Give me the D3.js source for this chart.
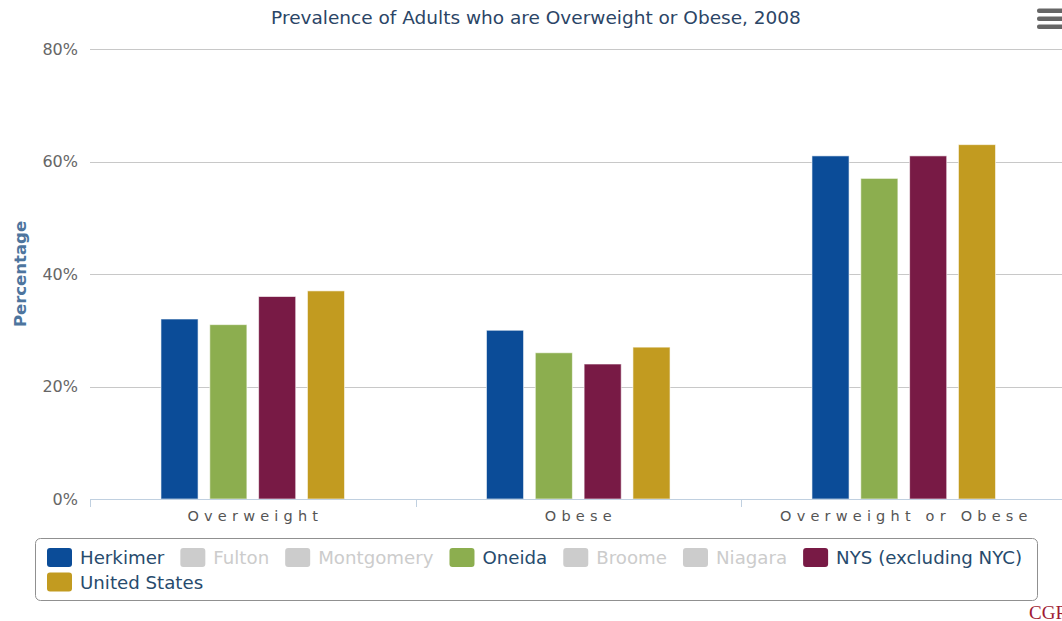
<!DOCTYPE html>
<html>
<head>
<meta charset="utf-8">
<script src="https://cdn.jsdelivr.net/npm/d3@7"></script>
<style>
  html, body { margin: 0; padding: 0; background: #fff; overflow: hidden; }
  svg { display: block; font-family: "DejaVu Sans", "Noto Sans", sans-serif; }
</style>
</head>
<body>
<svg id="chart" width="1062" height="621"></svg>
<script>
// Prevalence of adults who are overweight or obese, 2008 (percent)
const categories = ["Overweight", "Obese", "Overweight or Obese"];
const seriesNames = ["Herkimer", "Fulton", "Montgomery", "Oneida", "Broome", "Niagara", "NYS (excluding NYC)", "United States"];
const seriesVisible = [true, false, false, true, false, false, true, true];
const seriesColors = ["#0b4c98", "#cccccc", "#cccccc", "#8cae4f", "#cccccc", "#cccccc", "#781a45", "#c29b20"];
const herkimer = [32, 30, 61];
const oneida = [31, 26, 57];
const nys = [36, 24, 61];
const unitedStates = [37, 27, 63];
const yTicks = [0, 20, 40, 60, 80];

const valuesBySeries = {
  "Herkimer": herkimer,
  "Oneida": oneida,
  "NYS (excluding NYC)": nys,
  "United States": unitedStates
};
const shown = seriesNames.filter((s, i) => seriesVisible[i]);

const svg = d3.select("#chart");
const W = 1062;
const plot = { left: 90, right: 1066.5, top: 49, bottom: 499 };

const y = d3.scaleLinear().domain([0, 80]).range([plot.bottom, plot.top]);
const x0 = d3.scaleBand().domain(categories).range([plot.left, plot.right]).padding(0);
const groupPad = 0.2;
const x1 = d3.scaleBand().domain(shown)
  .range([0, x0.bandwidth() * (1 - 2 * groupPad)])
  .paddingInner(0.24).paddingOuter(0.12);

// Title
svg.append("text")
  .attr("x", 536).attr("y", 24)
  .attr("text-anchor", "middle")
  .attr("fill", "#2b4566")
  .style("font-size", "18.5px")
  .text("Prevalence of Adults who are Overweight or Obese, 2008");

// Export menu glyph
svg.append("g").selectAll("rect").data([0, 1, 2]).join("rect")
  .attr("x", 1037).attr("y", d => 8.5 + d * 8).attr("width", 30).attr("height", 4.5)
  .attr("rx", 2).attr("fill", "#666");

// Gridlines
svg.append("g").selectAll("line").data(yTicks.filter(t => t > 0)).join("line")
  .attr("x1", plot.left).attr("x2", W)
  .attr("y1", d => Math.round(y(d)) + 0.5).attr("y2", d => Math.round(y(d)) + 0.5)
  .attr("stroke", "#c8c8c8").attr("stroke-width", 1);

// Y axis labels
const yAxis = d3.axisLeft(y).tickValues(yTicks).tickSize(0).tickPadding(12)
  .tickFormat(d => d + "%");
const gy = svg.append("g").attr("transform", `translate(${plot.left},0)`).call(yAxis);
gy.select(".domain").remove();
gy.selectAll("text").attr("fill", "#666").style("font-size", "16px")
  .style("font-family", "DejaVu Sans, sans-serif");

// Y axis title
svg.append("text")
  .attr("transform", `translate(26,${(plot.top + plot.bottom) / 2}) rotate(-90)`)
  .attr("text-anchor", "middle")
  .attr("fill", "#4d759e")
  .style("font-size", "16.5px").style("font-weight", "bold")
  .text("Percentage");

// Bars
const groups = svg.append("g").selectAll("g").data(categories).join("g")
  .attr("transform", d => `translate(${x0(d) + x0.bandwidth() * groupPad},0)`);
groups.selectAll("rect")
  .data((c, ci) => shown.map(s => ({ s, v: valuesBySeries[s][ci] })))
  .join("rect")
  .attr("x", d => x1(d.s))
  .attr("width", x1.bandwidth())
  .attr("y", d => y(d.v))
  .attr("height", d => y(0) - y(d.v))
  .attr("fill", d => seriesColors[seriesNames.indexOf(d.s)])
  .attr("stroke", "#ffffff").attr("stroke-opacity", 0.6).attr("stroke-width", 1);

// X axis
const xAxis = d3.axisBottom(x0).tickSize(0).tickPadding(12);
const gx = svg.append("g").attr("transform", `translate(0,${plot.bottom})`).call(xAxis);
gx.select(".domain").remove();
gx.append("line").attr("x1", plot.left).attr("x2", W).attr("y1", 0.5).attr("y2", 0.5)
  .attr("stroke", "#c0d0e0");
gx.selectAll(".boundary").data(categories).join("line")
  .attr("class", "boundary")
  .attr("x1", d => Math.round(x0(d)) + 0.5).attr("x2", d => Math.round(x0(d)) + 0.5)
  .attr("y1", 0).attr("y2", 8).attr("stroke", "#c0d0e0");
gx.selectAll(".tick text")
  .attr("fill", "#555")
  .attr("dx", "2.6px")
  .style("font-size", "14.5px")
  .style("letter-spacing", "5.2px")
  .style("font-family", "DejaVu Sans, sans-serif");

// Legend
const legend = svg.append("g");
legend.append("rect")
  .attr("x", 35.5).attr("y", 538.5).attr("width", 1002).attr("height", 62)
  .attr("rx", 5).attr("fill", "none").attr("stroke", "#909090");

let lx = 47, ly = 548;
const rowH = 24.5, maxX = 1036;
seriesNames.forEach((name, i) => {
  const item = legend.append("g");
  const t = item.append("text")
    .attr("x", 33).attr("y", 16)
    .attr("fill", seriesVisible[i] ? "#274b6d" : "#cccccc")
    .style("font-size", "18.2px")
    .text(name);
  const w = 33 + t.node().getComputedTextLength();
  if (lx + w > maxX) { lx = 47; ly += rowH; }
  item.attr("transform", `translate(${lx},${ly})`);
  item.insert("rect", "text")
    .attr("x", 0).attr("y", 0).attr("width", 25).attr("height", 19).attr("rx", 3)
    .attr("fill", seriesColors[i]);
  lx += w + 16;
});

// Credit
svg.append("text")
  .attr("x", 1029).attr("y", 619)
  .attr("fill", "#a01a33")
  .style("font-family", "Liberation Serif, serif")
  .style("font-size", "19px")
  .text("CGR");
</script>
</body>
</html>
